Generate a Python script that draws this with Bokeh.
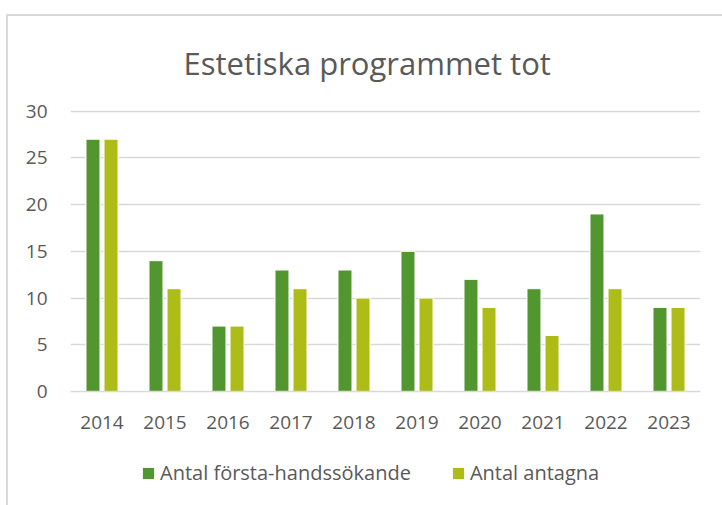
from bokeh.plotting import figure
from bokeh.models import ColumnDataSource, Range1d, Legend, LegendItem, Title, FactorRange
from bokeh.layouts import column
from bokeh.transform import dodge
from bokeh.embed import file_html
from bokeh.resources import INLINE

years = ["2014", "2015", "2016", "2017", "2018", "2019", "2020", "2021", "2022", "2023"]
forsta_hand = [27, 14, 7, 13, 13, 15, 12, 11, 19, 9]
antagna = [27, 11, 7, 11, 10, 10, 9, 6, 11, 9]
y_ticks = [0, 5, 10, 15, 20, 25, 30]

title_text = "Estetiska programmet tot"
series_names = ["Antal första-handssökande", "Antal antagna"]
colors = ["#52962f", "#adbc17"]
text_color = "#595959"
grid_color = "#d9d9d9"
font = "Open Sans"

src = ColumnDataSource(data=dict(years=years, a=forsta_hand, b=antagna))

p = figure(width=722, height=450, x_range=FactorRange(*years), y_range=Range1d(0, 30.5),
           output_backend="svg", toolbar_location=None,
           min_border_left=70, min_border_right=22, min_border_top=106, min_border_bottom=59)
p.outline_line_color = None
p.background_fill_color = None
p.border_fill_color = None

r1 = p.vbar(x=dodge("years", -0.143, range=p.x_range), top="a", width=0.222, source=src,
            fill_color=colors[0], line_color="white", line_width=1)
r2 = p.vbar(x=dodge("years", 0.143, range=p.x_range), top="b", width=0.222, source=src,
            fill_color=colors[1], line_color="white", line_width=1)

t = Title(text=title_text, align="left", offset=113, text_font=font, text_font_size="31px",
          text_font_style="normal", text_color=text_color, standoff=46)
p.add_layout(t, "above")

p.xgrid.grid_line_color = None
p.ygrid.grid_line_color = grid_color
p.ygrid.grid_line_width = 1.5
p.yaxis.ticker = y_ticks
p.yaxis.axis_line_color = None
p.yaxis.major_tick_line_color = None
p.yaxis.minor_tick_line_color = None
p.yaxis.major_label_standoff = 17
p.yaxis.major_label_text_font = font
p.yaxis.major_label_text_font_size = "19px"
p.yaxis.major_label_text_color = text_color

p.xaxis.axis_line_color = grid_color
p.xaxis.axis_line_width = 1.5
p.xaxis.major_tick_line_color = None
p.xaxis.major_tick_out = 0
p.xaxis.major_label_standoff = 24
p.xaxis.major_label_text_font = font
p.xaxis.major_label_text_font_size = "19px"
p.xaxis.major_label_text_color = text_color

# legend strip below the chart (same data, bars scrolled out of view)
lf = figure(width=722, height=55, x_range=p.x_range, y_range=Range1d(100, 101),
            output_backend="svg", toolbar_location=None,
            min_border_left=0, min_border_right=0, min_border_top=0, min_border_bottom=0)
lf.axis.visible = False
lf.grid.visible = False
lf.outline_line_color = None
lf.background_fill_color = None
lf.border_fill_color = None
l1 = lf.quad(left=dodge("years", -0.25, range=lf.x_range), right=dodge("years", -0.03, range=lf.x_range),
             bottom=0, top="a", source=src, fill_color=colors[0], line_color=None)
l2 = lf.quad(left=dodge("years", 0.03, range=lf.x_range), right=dodge("years", 0.25, range=lf.x_range),
             bottom=0, top="b", source=src, fill_color=colors[1], line_color=None)

legend = Legend(items=[LegendItem(label=series_names[0], renderers=[l1], index=0),
                       LegendItem(label=series_names[1], renderers=[l2], index=0)],
                orientation="horizontal", location=(71, 19),
                glyph_width=14, glyph_height=14, label_standoff=5, spacing=40,
                label_text_font=font, label_text_font_size="20px", label_text_color=text_color,
                border_line_color=None, background_fill_alpha=0, margin=0, padding=0)
lf.add_layout(legend, "center")

grad = "linear-gradient(#d9d9d9,#d9d9d9)"
layout = column(p, lf, spacing=0,
                styles={"background": f"{grad} 6px 14px / 2px 100% no-repeat, {grad} 6px 14px / 100% 2px no-repeat"})

open("out.html", "w").write(file_html(layout, INLINE))
